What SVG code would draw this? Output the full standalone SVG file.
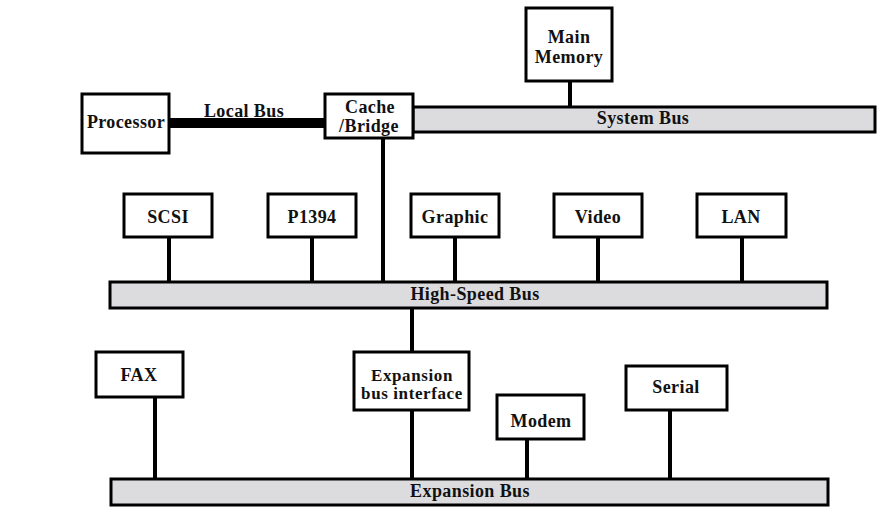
<svg xmlns="http://www.w3.org/2000/svg" width="895" height="526" viewBox="0 0 895 526">
<style>
.box{fill:#fff;stroke:#000;stroke-width:3}
.bus{fill:#dcdcdf;stroke:#000;stroke-width:3}
.ln{stroke:#000;stroke-width:4;fill:none}
.thick{stroke:#000;stroke-width:10;fill:none}
text{font-family:"Liberation Serif","Times New Roman",serif;font-weight:bold;font-size:18px;letter-spacing:0.4px;text-anchor:middle;fill:#111}
.sm{font-size:17px;letter-spacing:0.6px}
</style>
<rect width="895" height="526" fill="#fff"/>
<g id="connectors">
<line class="thick" x1="169" y1="123" x2="325" y2="123"/>
<line class="ln" x1="570" y1="81" x2="570" y2="107"/>
<line class="ln" x1="383" y1="138" x2="383" y2="282"/>
<line class="ln" x1="169" y1="237" x2="169" y2="282"/>
<line class="ln" x1="312" y1="237" x2="312" y2="282"/>
<line class="ln" x1="455" y1="237" x2="455" y2="282"/>
<line class="ln" x1="598" y1="237" x2="598" y2="282"/>
<line class="ln" x1="742" y1="237" x2="742" y2="282"/>
<line class="ln" x1="412" y1="308" x2="412" y2="352"/>
<line class="ln" x1="412" y1="410" x2="412" y2="479"/>
<line class="ln" x1="155" y1="397" x2="155" y2="479"/>
<line class="ln" x1="527" y1="439" x2="527" y2="479"/>
<line class="ln" x1="670" y1="410" x2="670" y2="479"/>
<text x="244" y="117">Local Bus</text>
</g>
<g id="system-bus"><rect class="bus" x="413" y="107" width="462" height="25"/><text x="643" y="124">System Bus</text></g>
<g id="high-speed-bus"><rect class="bus" x="110" y="282" width="717" height="26"/><text x="475" y="300">High-Speed Bus</text></g>
<g id="expansion-bus"><rect class="bus" x="111" y="479" width="717" height="26"/><text x="470" y="497">Expansion Bus</text></g>
<g id="processor"><rect class="box" x="82" y="94" width="87" height="59"/><text x="126" y="128">Processor</text></g>
<g id="cache-bridge"><rect class="box" x="325" y="94" width="88" height="44"/><text x="370" y="113">Cache</text><text x="369" y="132">/Bridge</text></g>
<g id="main-memory"><rect class="box" x="526" y="8" width="86" height="73"/><text x="569" y="43">Main</text><text x="569" y="63">Memory</text></g>
<g id="scsi"><rect class="box" x="124" y="194" width="88" height="43"/><text x="168" y="223">SCSI</text></g>
<g id="p1394"><rect class="box" x="268" y="194" width="88" height="43"/><text x="312" y="223">P1394</text></g>
<g id="graphic"><rect class="box" x="411" y="194" width="88" height="43"/><text x="455" y="223">Graphic</text></g>
<g id="video"><rect class="box" x="554" y="194" width="88" height="43"/><text x="598" y="223">Video</text></g>
<g id="lan"><rect class="box" x="697" y="194" width="89" height="43"/><text x="741" y="223">LAN</text></g>
<g id="fax"><rect class="box" x="96" y="352" width="87" height="45"/><text x="139" y="381">FAX</text></g>
<g id="expansion-bus-interface"><rect class="box" x="354" y="352" width="115" height="58"/><text class="sm" x="412" y="381">Expansion</text><text class="sm" x="412" y="399">bus interface</text></g>
<g id="modem"><rect class="box" x="497" y="395" width="87" height="44"/><text x="541" y="427">Modem</text></g>
<g id="serial"><rect class="box" x="626" y="366" width="101" height="44"/><text x="676" y="393">Serial</text></g>
</svg>
